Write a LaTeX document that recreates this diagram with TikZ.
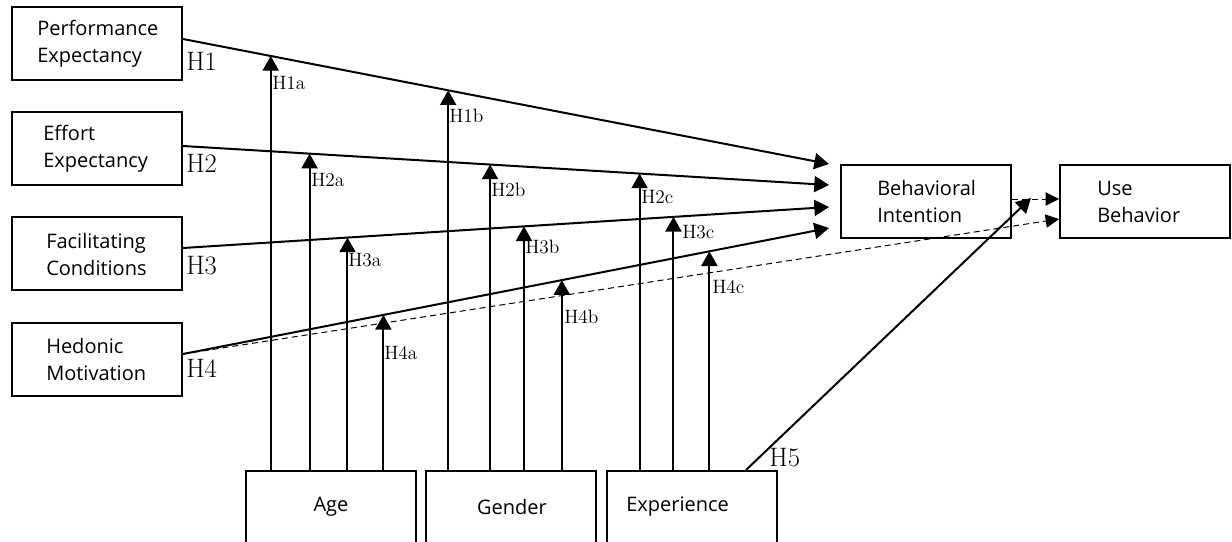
\documentclass[tikz,border=0pt]{standalone}
\usepackage{fontspec}
\setsansfont{Open Sans}
\usetikzlibrary{arrows.meta,calc}
\begin{document}
\begin{tikzpicture}[x=0.75pt,y=-0.75pt,
  box/.style={draw,line width=1.5pt,minimum width=127.5pt,minimum height=54.75pt,inner sep=0pt},
  txt/.style={font=\sffamily\fontsize{15}{20.25}\selectfont,align=left,inner sep=0pt},
  arr/.style={line width=1.5pt,-{Triangle[length=11pt,width=12pt]}},
  dsh/.style={line width=0.75pt,dash pattern=on 4.5pt off 3pt,-{Triangle[length=10pt,width=10pt]}},
  hlab/.style={font=\fontsize{20}{20}\selectfont,anchor=west,inner sep=0pt},
  mlab/.style={font=\fontsize{14.5}{14.5}\selectfont,anchor=west,inner sep=0pt}]
\useasboundingbox (0,0) rectangle (1232,542);
\clip (0,0) rectangle (1232,542);

% constructs
\node[box] (pe) at (97,43.5) {};
\node[box] (ee) at (97,148.5) {};
\node[box] (fc) at (97,253.5) {};
\node[box] (hm) at (97,359.5) {};
\node[box] (bi) at (926,201.5) {};
\node[box] (ub) at (1145,201.5) {};
\node[box] (age) at (331,507.5) {};
\node[box] (gen) at (511,507.5) {};
\node[box] (exp) at (692,507.5) {};

\node[txt,anchor=west] (pe-t) at (37,43.5) {Performance\\Expectancy};
\node[txt,anchor=west] (ee-t) at (43,149) {Effort\\Expectancy};
\node[txt,anchor=west] (fc-t) at (46,254.5) {Facilitating\\Conditions};
\node[txt,anchor=west] (hm-t) at (46,359.5) {Hedonic\\Motivation};
\node[txt,anchor=west] (bi-t) at (877,201.5) {Behavioral\\Intention};
\node[txt,anchor=west] (ub-t) at (1097,201.5) {Use\\Behavior};
\node[txt] (age-t) at (331,507) {Age};
\node[txt] (gen-t) at (512,507) {Gender};
\node[txt,anchor=west] (exp-t) at (626,507) {Experience};

% direct paths into behavioral intention
\coordinate (o1) at ($(pe.east)+(0,-4.5)$);
\coordinate (o2) at ($(ee.east)+(0,-2.5)$);
\coordinate (o3) at ($(fc.east)+(0,-5.5)$);
\coordinate (o4) at ($(hm.east)+(0,-5.5)$);
\coordinate (t1) at ($(bi.west)+(-11,-37.5)$);
\coordinate (t2) at ($(bi.west)+(-11,-16.5)$);
\coordinate (t3) at ($(bi.west)+(-11,5.5)$);
\coordinate (t4) at ($(bi.west)+(-11,26.5)$);
\foreach \i in {1,...,4} \draw[arr] (o\i) -- (t\i);

% moderating effects
\foreach \l/\x/\b/\n in {1/270/age/H1a,1/448/gen/H1b,
    2/309/age/H2a,2/490/gen/H2b,2/640/exp/H2c,
    3/347/age/H3a,3/524/gen/H3b,3/674/exp/H3c,
    4/383/age/H4a,4/562/gen/H4b,4/710/exp/H4c}{
  \coordinate (m\n) at ($(o\l)!{(\x-182)/648}!(t\l)$);
  \draw[arr] (\b.north -| m\n) -- (m\n);
}

% use behavior paths
\coordinate (bi-o) at ($(bi.east)+(0,-2.5)$);
\coordinate (ub-a) at ($(ub.west)+(0,-2.5)$);
\coordinate (ub-b) at ($(ub.west)+(0,17.5)$);
\draw[dsh] (bi-o) -- (ub-a);
\draw[dsh] (o4) -- (ub-b);
\coordinate (h5-o) at ($(exp.north)+(54,0)$);
\coordinate (h5-t) at ($(bi.east)+(19,-3.5)$);
\draw[arr] (h5-o) -- (h5-t);

% hypothesis labels
\node[hlab] (lh1) at (186,61) {H1};
\node[hlab] (lh2) at (186,163) {H2};
\node[hlab] (lh3) at (186,266) {H3};
\node[hlab] (lh4) at (186,368) {H4};
\node[hlab] (lh5) at (769,458) {H5};
\node[mlab] (l1a) at (272,83) {H1a};
\node[mlab] (l1b) at (449,116) {H1b};
\node[mlab] (l2a) at (311,180) {H2a};
\node[mlab] (l2b) at (491,190) {H2b};
\node[mlab] (l2c) at (641,197) {H2c};
\node[mlab] (l3a) at (348,260) {H3a};
\node[mlab] (l3b) at (525,247) {H3b};
\node[mlab] (l3c) at (682,232) {H3c};
\node[mlab] (l4a) at (384,353) {H4a};
\node[mlab] (l4b) at (564,317) {H4b};
\node[mlab] (l4c) at (712,287) {H4c};
\end{tikzpicture}
\end{document}
